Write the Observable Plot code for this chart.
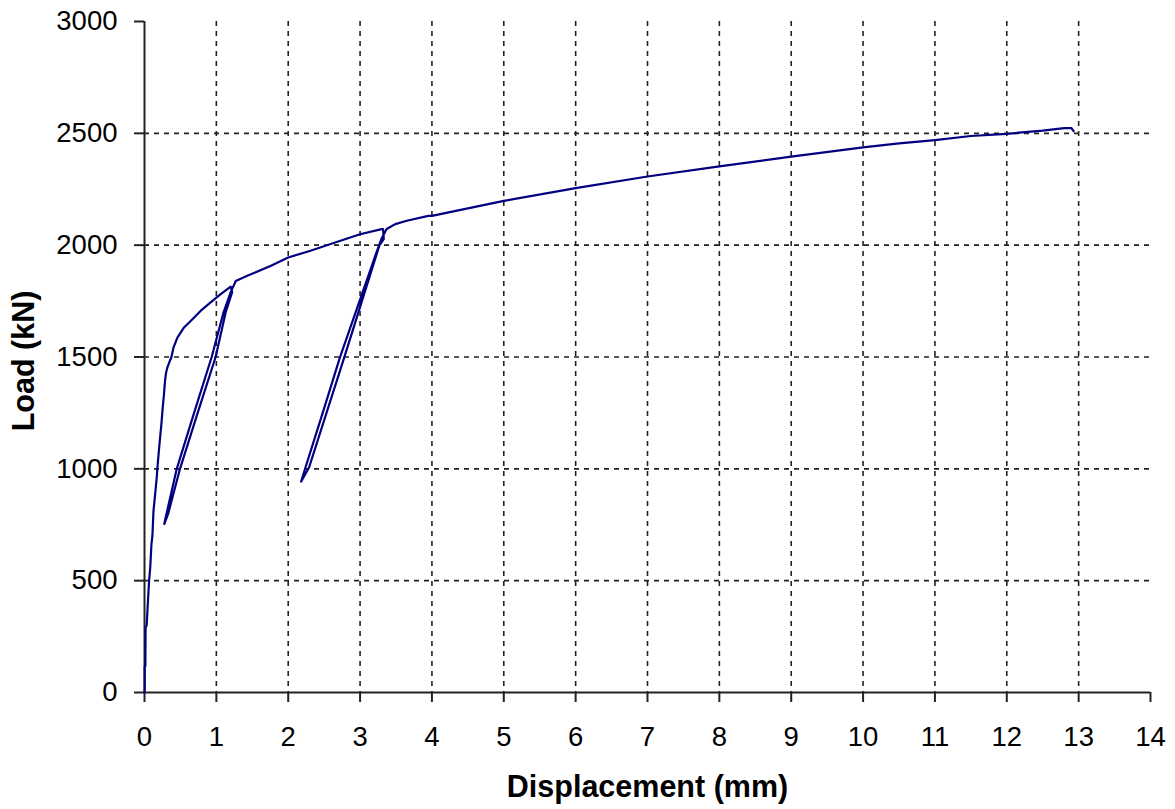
<!DOCTYPE html>
<html>
<head>
<meta charset="utf-8">
<script src="https://cdn.jsdelivr.net/npm/d3@7"></script>
<script src="https://cdn.jsdelivr.net/npm/@observablehq/plot@0.6"></script>
<style>
  html, body { margin: 0; padding: 0; background: #fff; }
  #chart { width: 1175px; height: 809px; }
</style>
</head>
<body>
<div id="chart"></div>
<script>
// Displacement (mm) and Load (kN), in recording order
const displacement = [
  0, 0.003, 0.003, 0.012, 0.015, 0.03, 0.04, 0.05, 0.064, 0.08, 0.097, 0.11, 0.125, 0.14, 0.157, 0.17, 0.18,
  0.2, 0.217, 0.235, 0.25, 0.27, 0.286, 0.3, 0.32, 0.35, 0.375, 0.403, 0.458, 0.55, 0.667, 0.78, 0.92, 1.06, 1.20,
  1.22, 1.13, 0.99, 0.74, 0.494, 0.33, 0.275,
  0.30, 0.449, 0.69, 0.935, 1.10, 1.20, 1.27,
  1.43, 1.76, 2.0, 2.31, 2.59, 3.0, 3.30,
  3.32, 3.33, 3.27, 2.78, 2.29, 2.18,
  2.24, 2.48, 2.72, 3.22, 3.30, 3.37, 3.49, 3.65, 3.95,
  4.0, 5.0, 6.0, 7.0, 8.0, 9.0, 10.0, 10.5, 11.0, 11.5, 12.0, 12.5, 12.8, 12.9, 12.93
];
const load = [
  0, 20, 115, 118, 290, 300, 360, 420, 500, 560, 665, 700, 812, 860, 917, 960, 1006,
  1080, 1140, 1200, 1260, 1330, 1394, 1430, 1455, 1480, 1500, 1542, 1587, 1632, 1669, 1706, 1744, 1781, 1815,
  1790, 1700, 1500, 1250, 1000, 800, 753,
  790, 1000, 1250, 1500, 1700, 1790, 1840,
  1863, 1908, 1945, 1975, 2005, 2049, 2072,
  2072, 2027, 2000, 1498, 1006, 943,
  1006, 1250, 1498, 1960, 2030, 2072, 2094, 2109, 2131,
  2131, 2198, 2255, 2307, 2352, 2396, 2437, 2455, 2470, 2488, 2498, 2512, 2523, 2523, 2510
];
const xTicks = [0, 1, 2, 3, 4, 5, 6, 7, 8, 9, 10, 11, 12, 13, 14];
const yTicks = [0, 500, 1000, 1500, 2000, 2500, 3000];
const xGrid = [1, 2, 3, 4, 5, 6, 7, 8, 9, 10, 11, 12, 13];
const yGrid = [500, 1000, 1500, 2000, 2500];
const xTitle = "Displacement (mm)";
const yTitle = "Load (kN)";

const data = displacement.map((d, i) => ({x: d, y: load[i]}));

const chart = Plot.plot({
  width: 1175,
  height: 809,
  marginLeft: 144,
  marginRight: 25,
  marginTop: 21,
  marginBottom: 117,
  style: {fontFamily: "'Liberation Sans', Arial, sans-serif", background: "#fff", color: "#000"},
  x: {domain: [0, 14], axis: null},
  y: {domain: [0, 3000], axis: null},
  marks: [
    Plot.ruleX(xGrid, {stroke: "#222", strokeWidth: 1.6, strokeDasharray: "5,5"}),
    Plot.ruleY(yGrid, {stroke: "#222", strokeWidth: 1.6, strokeDasharray: "5,5"}),
    Plot.axisX(xTicks, {anchor: "bottom", tickSize: 10, tickPadding: 24, fontSize: 27.5, stroke: "#222", strokeWidth: 2, label: null, tickFormat: d => String(d)}),
    Plot.axisY(yTicks, {anchor: "left", tickSize: 10, tickPadding: 17, fontSize: 27.5, stroke: "#222", strokeWidth: 2, label: null, tickFormat: d => String(d)}),
    Plot.ruleX([0], {stroke: "#222", strokeWidth: 2}),
    Plot.ruleY([0], {stroke: "#222", strokeWidth: 2}),
    Plot.line(data, {x: "x", y: "y", stroke: "#000080", strokeWidth: 2.2, curve: "linear"}),
    Plot.text([xTitle], {text: d => d, frameAnchor: "bottom", textAnchor: "middle", lineAnchor: "bottom", dy: 104, fontSize: 30.5, fontWeight: "bold", fill: "#000"}),
    Plot.text([yTitle], {text: d => d, frameAnchor: "left", textAnchor: "middle", lineAnchor: "middle", dx: -120, dy: 4, rotate: -90, fontSize: 30.5, fontWeight: "bold", fill: "#000"})
  ]
});
document.getElementById("chart").appendChild(chart);
</script>
</body>
</html>
